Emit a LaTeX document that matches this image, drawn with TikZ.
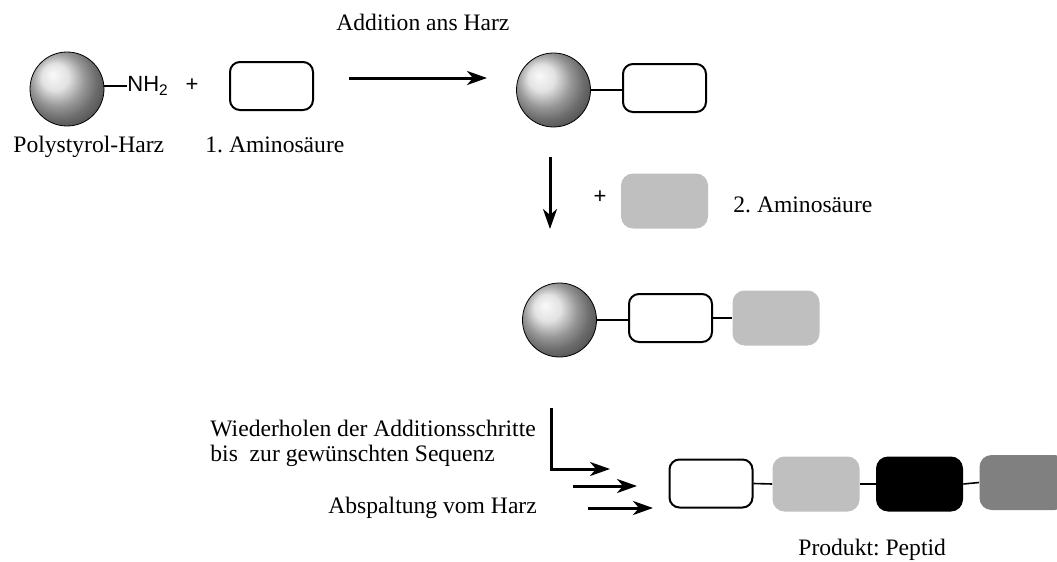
\documentclass[tikz,border=0pt]{standalone}
\usepackage{fontspec}
\setmainfont{Liberation Serif}
\newfontfamily\arial{Liberation Sans}
\usetikzlibrary{arrows.meta}
\definecolor{hellgrau}{gray}{0.75}
\definecolor{dunkelgrau}{gray}{0.5}
\frenchspacing

\begin{document}
\begin{tikzpicture}[x=.5pt, y=-.5pt,
  every node/.style={inner sep=0, font=\fontsize{11.8}{14}\selectfont},
  harz/.style={circle, draw, thin, minimum size=37pt, shade, ball color=black!15},
  leer/.style={draw, line width=1pt, rounded corners=5pt, minimum width=41.5pt, minimum height=24pt},
  voll/.style={rounded corners=6pt, minimum width=43.5pt, minimum height=27.5pt},
  bond/.style={line width=.8pt},
  pfeil/.style={line width=1.5pt, -{Stealth[length=10pt, width=7pt, inset=3pt]}}]
\useasboundingbox (0,0) rectangle (1057,562);
\node[harz] (s1) at (67,89) {};
\node[anchor=west, font=\arial\fontsize{11}{13}\selectfont] (nh) at (127,86) {NH\textsubscript{2}};
\draw[bond] (nh.west) -- (nh.west -| s1.east);
\node[anchor=base west] (t-harz) at (13,152) {Polystyrol-Harz};
\node[font=\arial\fontsize{11}{13}\selectfont] (plus1) at (192,85) {+};
\node[leer] (a1) at (271.5,86) {};
\node[anchor=base west] (t-as1) at (205,152) {1. Aminosäure};
\node[anchor=base west] (t-add) at (336,31) {Addition ans Harz};
\coordinate (p1a) at (349,78);
\coordinate (p1b) at (487,78);
\node[harz] (s2) at (553.5,90) {};
\node[leer] (a2) at (664.5,88) {};
\draw[bond] (s2.east) -- (s2.east -| a2.west);
\coordinate (p2a) at (550,157);
\coordinate (p2b) at (550,229);
\node[font=\arial\fontsize{11}{13}\selectfont] (plus2) at (600,197) {+};
\node[voll, fill=hellgrau] (b2) at (664.5,201) {};
\node[anchor=base west] (t-as2) at (733,213) {2. Aminosäure};
\node[harz] (s3) at (559.5,320) {};
\node[leer] (a3) at (670.5,318) {};
\node[voll, fill=hellgrau] (b3) at (776,318) {};
\draw[bond] (s3.east) -- (s3.east -| a3.west);
\draw[bond] (a3.east) -- (b3.west);
\node[anchor=base west] (t-wdh) at (210,436) {Wiederholen der Additionsschritte};
\node[anchor=base west] (t-seq) at (210,461) {bis\ \ zur gewünschten Sequenz};
\node[anchor=base west] (t-abs) at (328,513) {Abspaltung vom Harz};
\coordinate (p3a) at (551,408);
\coordinate (p3b) at (610,469);
\coordinate (p4a) at (573,486);
\coordinate (p4b) at (637,486);
\coordinate (p5a) at (588,508);
\coordinate (p5b) at (653,508);
\node[leer] (q1) at (711,483.5) {};
\node[voll, fill=hellgrau] (q2) at (816,484) {};
\node[voll, fill=black] (q3) at (919.5,484) {};
\node[voll, fill=dunkelgrau] (q4) at (1023,482.5) {};
\foreach \a/\b in {q1/q2,q2/q3,q3/q4}
  \draw[bond] (\a.east) -- (\b.west);
\node[anchor=base west] (t-prod) at (798,555) {Produkt: Peptid};
\foreach \a/\b in {p1a/p1b,p2a/p2b,p4a/p4b,p5a/p5b}
  \draw[pfeil] (\a) -- (\b);
\draw[pfeil] (p3a) |- (p3b);
\end{tikzpicture}
\end{document}
